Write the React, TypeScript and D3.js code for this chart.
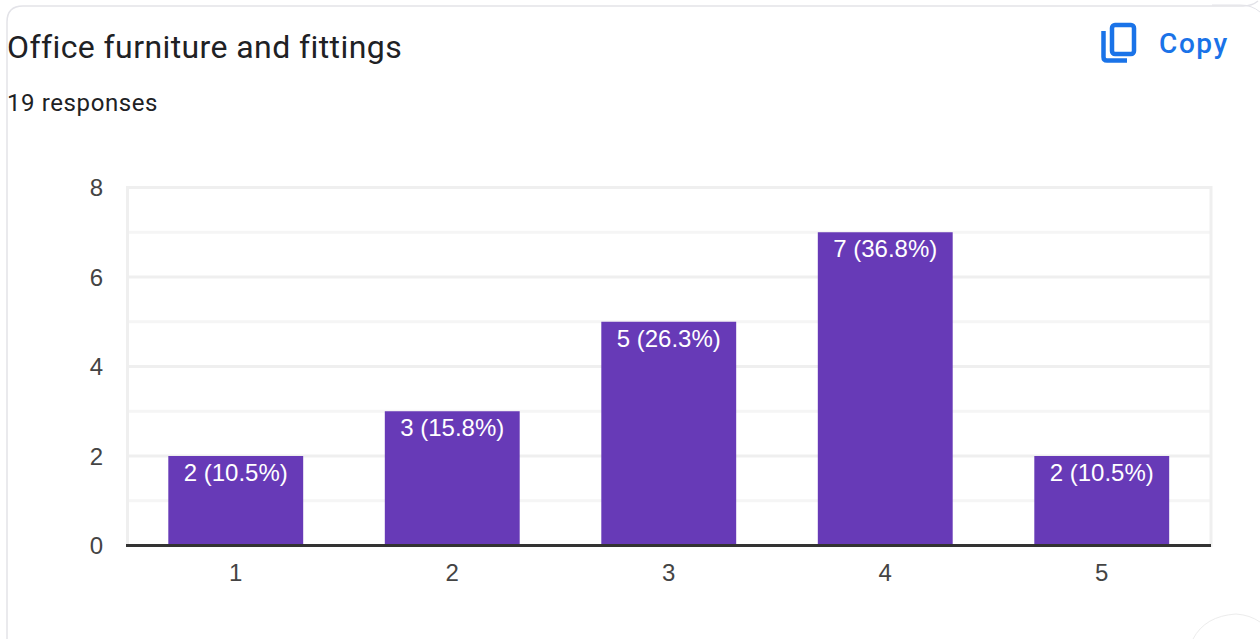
import React from "react";
import * as d3 from "d3";

const categories = ["1", "2", "3", "4", "5"];
const counts = [2, 3, 5, 7, 2];
const barLabels = ["2 (10.5%)", "3 (15.8%)", "5 (26.3%)", "7 (36.8%)", "2 (10.5%)"];
const majorTicks = [0, 2, 4, 6, 8];
const minorTicks = [1, 3, 5, 7];
const title = "Office furniture and fittings";
const subtitle = "19 responses";
const copyLabel = "Copy";

const W = 1260;
const H = 639;

export default function App() {
  const x = d3.scaleBand<string>().domain(categories).range([127.5, 1210]).paddingInner(0.377).paddingOuter(0.1885);
  const y = d3.scaleLinear().domain([0, 8]).range([545.5, 187.5]);
  const arial = "'Liberation Sans', Arial, sans-serif";
  return (
    <svg width={W} height={H} viewBox={`0 0 ${W} ${H}`} style={{ position: "absolute", left: 0, top: 0, background: "#fff" }}>
      {/* card outline */}
      <path d="M7,639 V22 Q7,6 23,6 H1243 Q1252,6 1258,1" fill="none" stroke="#e3e3e8" strokeWidth={1.5} />
      <path d="M1212,5 H1240 Q1252,5 1260,12" fill="none" stroke="#e3e3e8" strokeWidth={1} />
      <path d="M1193,639 Q1205,616 1236,614 Q1250,615 1260,622" fill="none" stroke="#ececec" strokeWidth={1} />

      <text x={7} y={58} fontFamily="Roboto, sans-serif" fontSize={32} letterSpacing={0.41} fill="#202124">{title}</text>
      <text x={7} y={111} fontFamily="Roboto, sans-serif" fontSize={24} letterSpacing={0.6} fill="#202124">{subtitle}</text>

      {/* copy icon */}
      <g fill="none" stroke="#1a73e8" strokeWidth={4.5}>
        <rect x={1112} y={25} width={22} height={29} rx={3} />
        <path d="M1103.5,31 V57 Q1103.5,60.5 1107,60.5 H1127" />
      </g>
      <text x={1159} y={53} fontFamily="Roboto, sans-serif" fontWeight={500} fontSize={28} letterSpacing={1.6} fill="#1a73e8">{copyLabel}</text>

      {/* grid */}
      {minorTicks.map((t) => (
        <line key={`m${t}`} x1={127} x2={1212} y1={y(t)} y2={y(t)} stroke="#f5f5f5" strokeWidth={3} />
      ))}
      {majorTicks.map((t) => (
        <line key={`g${t}`} x1={126} x2={1212} y1={y(t)} y2={y(t)} stroke="#efefef" strokeWidth={3} />
      ))}
      <line x1={127.5} x2={127.5} y1={186} y2={547} stroke="#efefef" strokeWidth={3} />
      <line x1={1211} x2={1211} y1={186} y2={547} stroke="#efefef" strokeWidth={3} />

      {/* bars */}
      {categories.map((c, i) => (
        <g key={c}>
          <rect x={x(c)} y={y(counts[i])} width={x.bandwidth()} height={y(0) - y(counts[i])} fill="#673ab7" />
          <text x={x(c)! + x.bandwidth() / 2} y={y(counts[i]) + 25} textAnchor="middle" fontFamily={arial} fontSize={24} fill="#fff">{barLabels[i]}</text>
          <text x={x(c)! + x.bandwidth() / 2} y={581} textAnchor="middle" fontFamily={arial} fontSize={24} fill="#444">{c}</text>
        </g>
      ))}

      <line x1={126} x2={1211} y1={y(0)} y2={y(0)} stroke="#333" strokeWidth={3} />

      {majorTicks.map((t) => (
        <text key={t} x={103} y={y(t) + 8.5} textAnchor="end" fontFamily={arial} fontSize={24} fill="#444">{t}</text>
      ))}
    </svg>
  );
}
